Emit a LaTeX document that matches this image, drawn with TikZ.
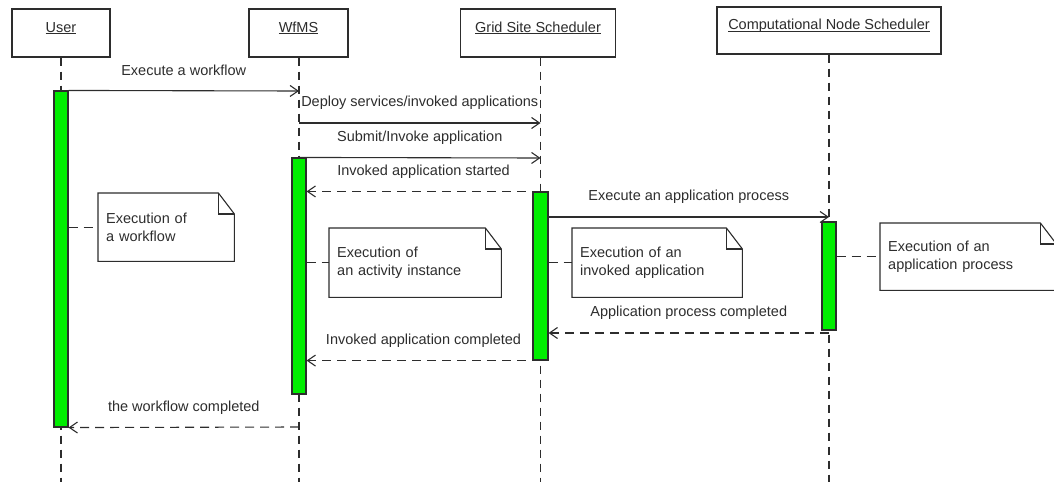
\documentclass[tikz,border=0pt]{standalone}
\usepackage{fontspec}
\setmainfont{Liberation Sans}
\usetikzlibrary{arrows.meta}
\definecolor{ink}{RGB}{45,45,45}
\definecolor{actgreen}{RGB}{0,238,0}
\newcommand{\headlabel}[1]{\underline{\smash{#1}}}

\begin{document}
\begin{tikzpicture}[x=1pt,y=-1pt,
  every node/.style={text=ink,font=\fontsize{14.5}{18}\selectfont},
  header/.style={draw=ink,line width=1.1pt,fill=white,minimum height=48pt,inner sep=0pt},
  lifeline/.style={draw=ink,line width=1.1pt,dash pattern=on 8pt off 6pt},
  actbar/.style={draw=ink,fill=actgreen,line width=1.1pt,minimum width=14pt,inner sep=0pt},
  call/.style={draw=ink,line width=1.1pt,-{Straight Barb[length=8pt,width=11pt]}},
  reply/.style={call,dash pattern=on 9pt off 6pt},
  noteline/.style={draw=ink,line width=1.1pt,dash pattern=on 9pt off 6pt},
  notebox/.style={inner xsep=8pt,inner ysep=0pt,align=left,anchor=north west},
  noteframe/.style={draw=ink,line width=1.1pt,line join=miter},
  msg/.style={midway,yshift=20pt,inner sep=0pt}
]
\useasboundingbox (0,0) rectangle (1054,482);
\clip (0,0) rectangle (1054,482);

% participants
\node[header,minimum width=98pt]  (hUser) at (61,33)    {\headlabel{User}};
\node[header,minimum width=99pt]  (hWf)   at (298.5,33) {\headlabel{WfMS}};
\node[header,minimum width=155pt] (hGrid) at (538,33)   {\headlabel{Grid Site Scheduler}};
\node[header,minimum width=224pt,minimum height=47pt] (hCns) at (829,30.5) {\headlabel{Computational Node Scheduler}};

% lifeline ends
\coordinate (eUser) at (61,482);
\coordinate (eWf)   at (299,482);
\coordinate (eGrid) at (540.5,482);
\coordinate (eCns)  at (829,482);
\draw[lifeline] (hUser.south -| eUser) -- (eUser);
\draw[lifeline] (hWf.south -| eWf) -- (eWf);
\draw[lifeline] (hGrid.south -| eGrid) -- (eGrid);
\draw[lifeline] (hCns.south -| eCns) -- (eCns);

% activations
\node[actbar,minimum height=336pt] (ubar) at (61,259) {};
\node[actbar,minimum height=236pt] (wbar) at (299,276) {};
\node[actbar,minimum width=15pt,minimum height=168pt] (gbar) at (540.5,276) {};
\node[actbar,minimum height=108pt] (cbar) at (829,276) {};

% message end points on lifelines
\coordinate (w91)  at (299,91);
\coordinate (w123) at (299,123);
\coordinate (g123) at (540.5,123);
\coordinate (g158) at (540.5,158);
\coordinate (c217) at (829,217);
\coordinate (c333) at (829,333);
\coordinate (w427) at (299,427);

% messages
\draw[call]  (ubar.north east) -- (w91)  node[msg] {Execute a workflow};
\draw[call]  (w123) -- (g123) node[msg] {Deploy services/invoked applications};
\draw[call]  (wbar.north) -- (g158) node[msg] {Submit/Invoke application};
\draw[reply] (gbar.north) -- (wbar.east |- gbar.north) node[msg] {Invoked application started};
\draw[call]  (gbar.east |- c217) -- (c217) node[msg] {Execute an application process};
\draw[reply] (c333) -- (gbar.east |- c333) node[msg] {Application process completed};
\draw[reply] (gbar.south) -- (wbar.east |- gbar.south) node[msg] {Invoked application completed};
\draw[reply] (w427) -- (ubar.south east) node[msg] {the workflow completed};

% notes
\node[notebox,text width=120pt,minimum height=68pt] (nWork) at (98,193)  {Execution of\\a workflow};
\node[notebox,text width=156pt,minimum height=69pt] (nAct)  at (329,228) {Execution of\\an activity instance};
\node[notebox,text width=154pt,minimum height=69pt] (nInv)  at (572,228) {Execution of an\\invoked application};
\node[notebox,text width=160pt,minimum height=67pt] (nProc) at (880,223) {Execution of an\\application process};

\foreach \n in {nWork,nAct,nInv,nProc}{
  \draw[noteframe] (\n.north west) -- ([xshift=-16pt]\n.north east)
    -- ([yshift=-21pt]\n.north east) -- (\n.south east) -- (\n.south west) -- cycle;
  \draw[noteframe] ([xshift=-16pt]\n.north east) -- ([xshift=-16pt,yshift=-21pt]\n.north east)
    -- ([yshift=-21pt]\n.north east);
}

% note anchors
\draw[noteline] (ubar.east |- nWork.west) -- (nWork.west);
\draw[noteline] (wbar.east |- nAct.west) -- (nAct.west);
\draw[noteline] (gbar.east |- nInv.west) -- (nInv.west);
\draw[noteline] (cbar.east |- nProc.west) -- (nProc.west);
\end{tikzpicture}
\end{document}
